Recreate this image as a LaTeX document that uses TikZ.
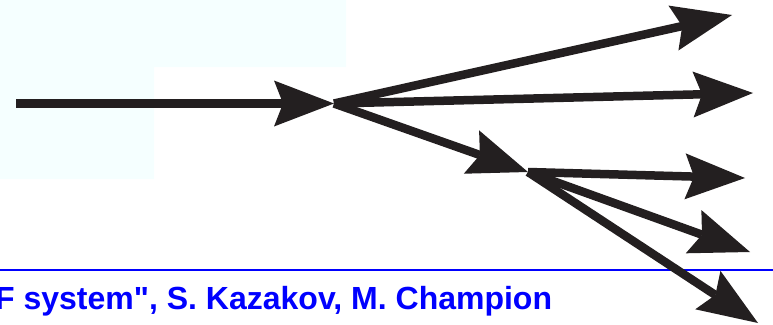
\documentclass[tikz,border=0pt]{standalone}
\usepackage{fontspec}
\setmainfont{Liberation Sans}[Ligatures=TeXOff]
\usetikzlibrary{arrows.meta}
\definecolor{arrowblack}{HTML}{231F20}
\definecolor{paleblue}{HTML}{F5FFFF}
\definecolor{titleblue}{HTML}{0000FF}
\begin{document}
\begin{tikzpicture}[x=1pt,y=-1pt,
  flow/.style={draw=arrowblack, line width=8.5pt,
    -{Stealth[length=60pt,width=46pt,inset=9pt,line width=0pt]}},
  rule/.style={draw=titleblue, line width=2.5pt},
  caption/.style={anchor=base west, inner sep=0pt, text=titleblue,
    font=\bfseries\fontsize{32}{38}\selectfont}]
\useasboundingbox (0,0) rectangle (773,324);
\clip (0,0) rectangle (773,324);
\fill[paleblue] (0,0) -- (346,0) -- (346,67) -- (154,67) -- (154,179) -- (0,179) -- cycle;
% points
\coordinate (in) at (16,103.5);
\coordinate (A) at (334,103.5);
\coordinate (t1) at (732,15);
\coordinate (t2) at (753,93);
\coordinate (B) at (528,172);
\coordinate (t4) at (745,178);
\coordinate (t5) at (750,252);
\coordinate (t6) at (758,323);
% rule and caption
\coordinate (rl) at (0,270);
\coordinate (rr) at (773,270);
\draw[rule] (rl) -- (rr);
\node[caption] (cap) at (-5,309) {F system", S. Kazakov, M. Champion};
% arrows
\draw[flow] (in) -- (A);
\draw[flow] (A) -- (t1);
\draw[flow] (A) -- (t2);
\draw[flow] (A) -- (B);
\draw[flow] (B) -- (t4);
\draw[flow] (B) -- (t5);
\draw[flow] (B) -- (t6);
\end{tikzpicture}
\end{document}
